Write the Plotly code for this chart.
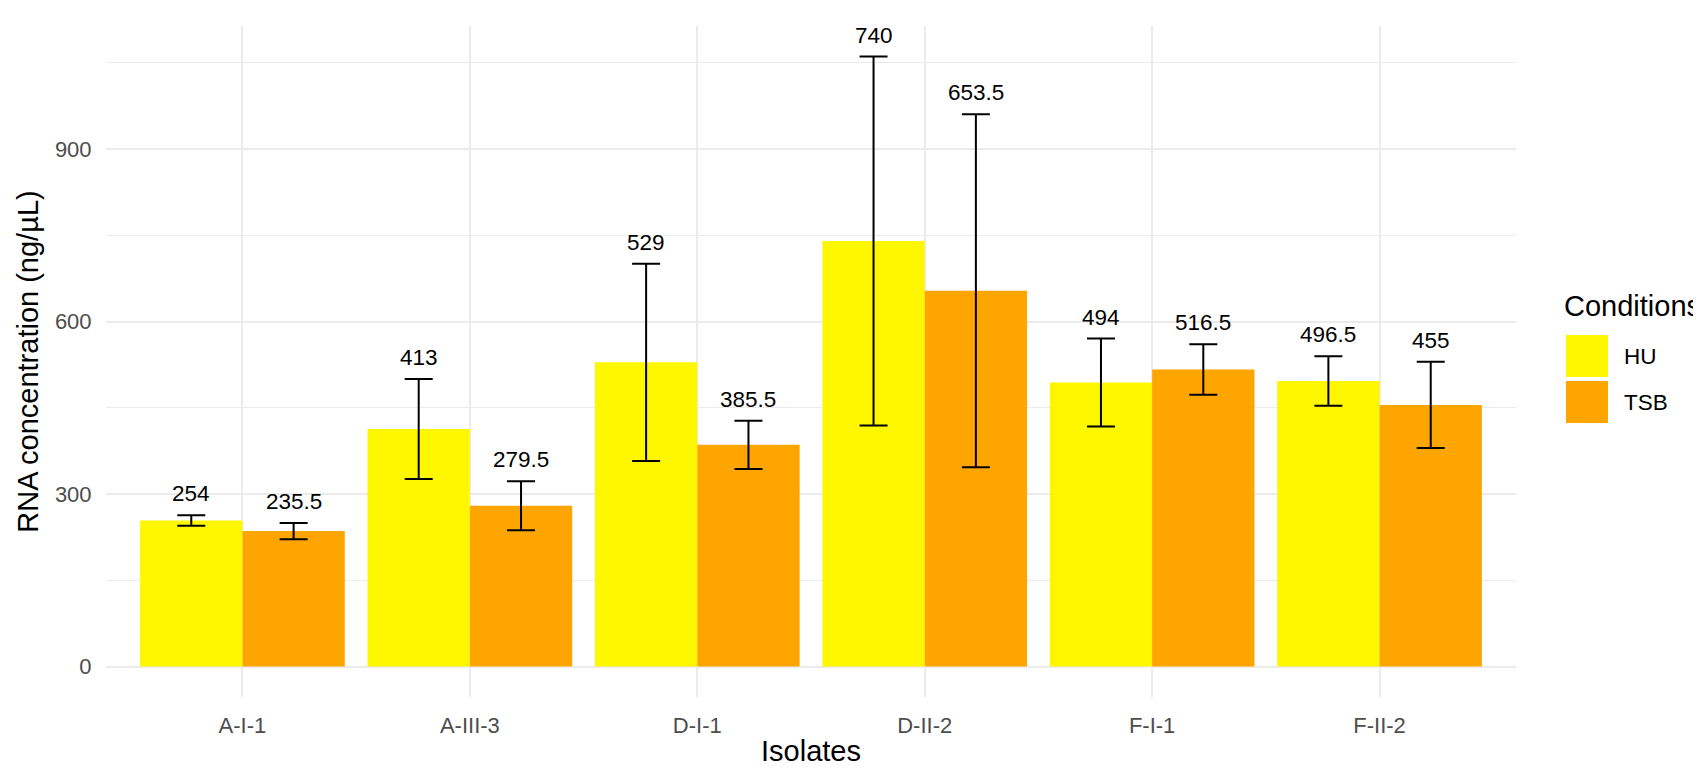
import plotly.graph_objects as go

# data
isolates = ["A-I-1", "A-III-3", "D-I-1", "D-II-2", "F-I-1", "F-II-2"]
hu_mean = [254, 413, 529, 740, 494, 496.5]
hu_sd = [9, 87, 171.5, 321, 76.5, 43]
tsb_mean = [235.5, 279.5, 385.5, 653.5, 516.5, 455]
tsb_sd = [14, 42.5, 42, 307, 44, 75]
conditions = ["HU", "TSB"]
colors = ["#FFF700", "#FFA500"]

FONT = "Liberation Sans, Arial, sans-serif"
TITLE_SIZE = 29
# the html body has an 8px default margin, so the figure is shrunk by that
OFF = 8
W, H = 1701 - OFF, 768 - OFF
L, R, T, B = 106 - OFF, 185, 26 - OFF, 71
plot_w = W - L - R
plot_h = H - T - B
cat_px = plot_w / 6.2          # pixels per category (x range -0.6..5.6)
half_bar = 0.225 * cat_px       # centre offset of each dodged bar

top = max(max(m + s for m, s in zip(hu_mean, hu_sd)),
          max(m + s for m, s in zip(tsb_mean, tsb_sd)))
pad = 0.05 * top

fig = go.Figure()
series = [(hu_mean, hu_sd), (tsb_mean, tsb_sd)]
for (means, sds), name, col in zip(series, conditions, colors):
    fig.add_trace(go.Bar(
        x=isolates, y=means, name=name,
        marker=dict(color=col, line=dict(width=0)),
        error_y=dict(type="data", array=sds, visible=True,
                     color="black", thickness=2, width=14),
        showlegend=False,
    ))

# value labels above the error bars
for k, (means, sds) in enumerate(series):
    shift = -half_bar if k == 0 else half_bar
    for iso, m, s in zip(isolates, means, sds):
        fig.add_annotation(
            x=iso, y=m + s, text=f"{m:g}", showarrow=False,
            xshift=shift, yshift=7, yanchor="bottom",
            font=dict(family=FONT, size=22.5, color="black"),
        )


# page pixel -> paper coordinates
def px_x(px):
    return (px - OFF - L) / plot_w


def px_y(py):
    return 1 - (py - OFF - T) / plot_h


# legend drawn by hand (ggplot style square keys)
fig.add_annotation(xref="paper", yref="paper", x=px_x(1562), y=px_y(306),
                   text="Conditions", showarrow=False, xanchor="left",
                   yanchor="middle", font=dict(family=FONT, size=TITLE_SIZE, color="black"))
key_tops = [335, 381]
for name, col, kt in zip(conditions, colors, key_tops):
    fig.add_shape(type="rect", xref="paper", yref="paper",
                  x0=px_x(1566), x1=px_x(1608), y0=px_y(kt), y1=px_y(kt + 42),
                  fillcolor=col, line=dict(width=0))
    fig.add_annotation(xref="paper", yref="paper", x=px_x(1622), y=px_y(kt + 21),
                       text=name, showarrow=False, xanchor="left", yanchor="middle",
                       font=dict(family=FONT, size=22.5, color="black"))

fig.update_layout(
    width=W, height=H,
    margin=dict(l=L, r=R, t=T, b=B),
    paper_bgcolor="white", plot_bgcolor="white",
    barmode="group", bargap=0.1, bargroupgap=0,
    font=dict(family=FONT),
)
fig.update_xaxes(
    range=[-0.6, 5.6], automargin=False,
    showgrid=True, gridcolor="#EBEBEB", gridwidth=2,
    zeroline=False, showline=False,
    ticks="outside", ticklen=9, tickcolor="rgba(0,0,0,0)",
    tickfont=dict(family=FONT, size=22, color="#4D4D4D"),
    title=dict(text="Isolates", font=dict(family=FONT, size=TITLE_SIZE, color="black"),
               standoff=3),
)
fig.update_yaxes(
    range=[-pad, top + pad], automargin=False,
    tickvals=[0, 300, 600, 900],
    showgrid=True, gridcolor="#EBEBEB", gridwidth=2,
    minor=dict(dtick=150, tick0=0, showgrid=True, gridcolor="#EBEBEB", gridwidth=1.2),
    zeroline=False, showline=False,
    ticks="outside", ticklen=9, tickcolor="rgba(0,0,0,0)",
    tickfont=dict(family=FONT, size=22, color="#4D4D4D"),
    title=dict(text="RNA concentration (ng/µL)",
               font=dict(family=FONT, size=TITLE_SIZE, color="black"), standoff=7),
)

fig.write_html("out.html")
